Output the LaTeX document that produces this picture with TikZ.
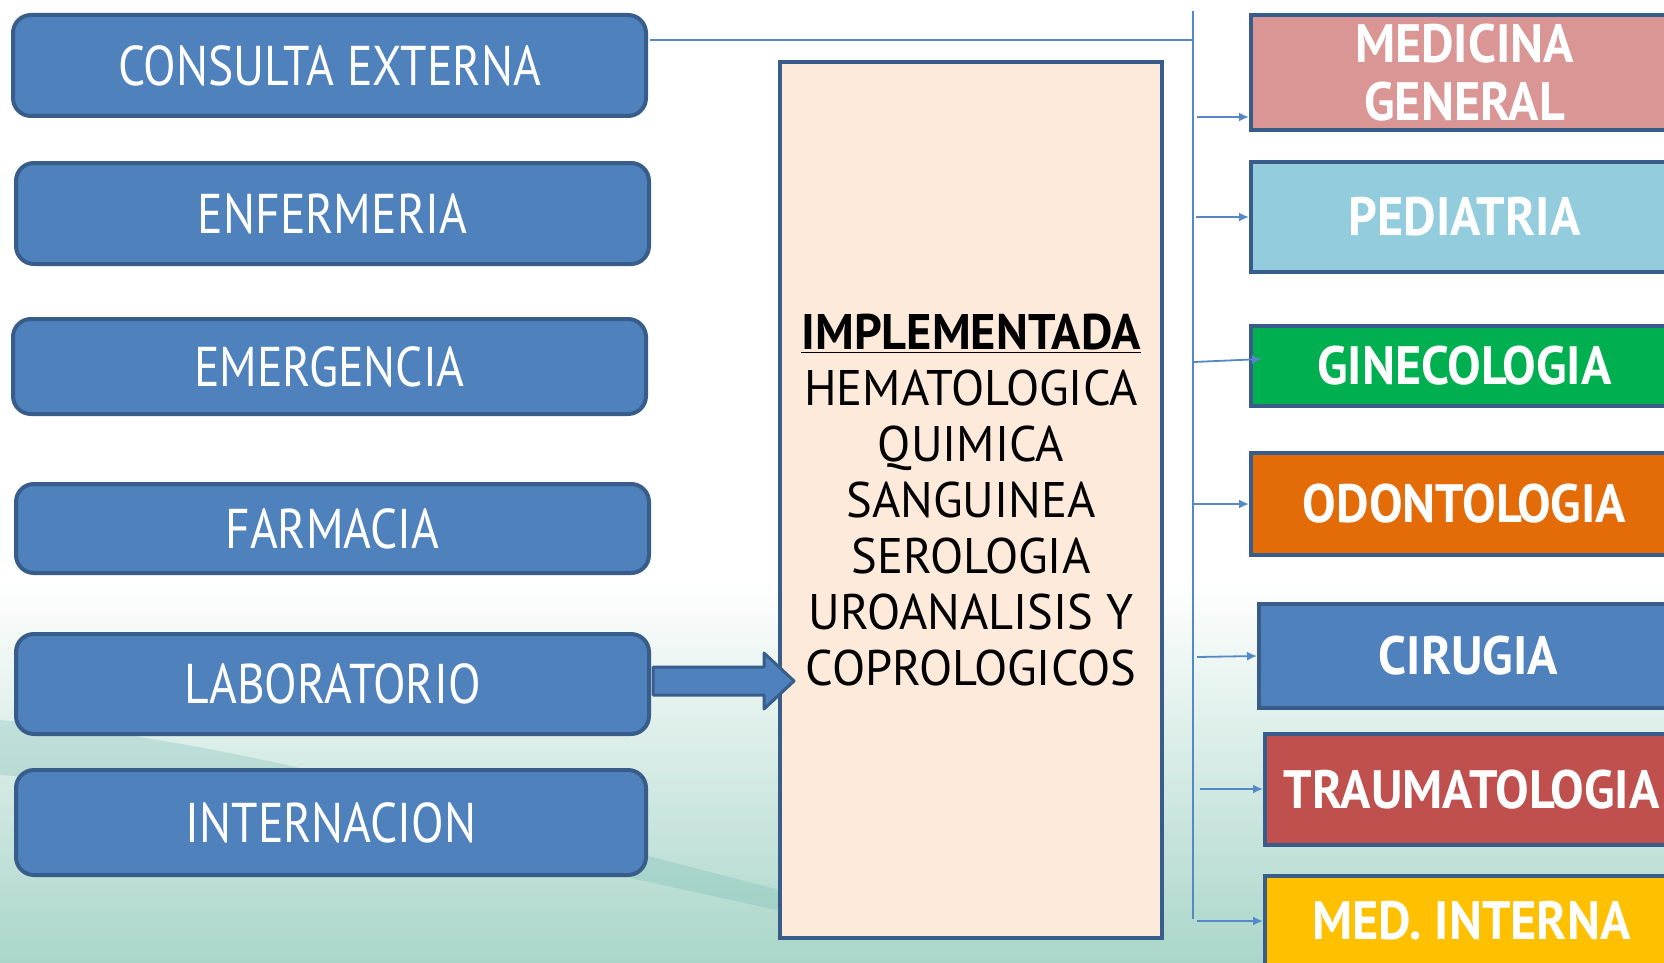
\documentclass[tikz,border=0pt]{standalone}
\usepackage{fontspec}
\setmainfont{PT Sans}
\newfontfamily\leftfont[FakeStretch=0.85]{PT Sans}
\newfontfamily\rightfont[FakeStretch=0.93]{PT Sans}
\newfontfamily\centerfont[FakeStretch=0.97]{PT Sans}
\usetikzlibrary{positioning,calc,arrows.meta}
\definecolor{azul}{RGB}{79,129,189}
\definecolor{borde}{RGB}{56,93,138}
\definecolor{crema}{RGB}{253,234,218}
\definecolor{rosa}{RGB}{217,150,148}
\definecolor{celeste}{RGB}{147,205,221}
\definecolor{verde}{RGB}{0,176,80}
\definecolor{naranja}{RGB}{227,108,9}
\definecolor{rojo}{RGB}{192,80,77}
\definecolor{amarillo}{RGB}{255,192,0}
\definecolor{linea}{RGB}{84,136,198}
\definecolor{fondo}{RGB}{170,214,201}

\begin{document}
\begin{tikzpicture}[x=0.5pt, y=-0.5pt,
  servicio/.style={rectangle, rounded corners=9pt, draw=borde, line width=2pt, fill=azul, text=white, inner sep=0pt, font=\leftfont\fontsize{28}{32}\selectfont},
  area/.style={rectangle, draw=borde, line width=2pt, text=white, inner sep=0pt, align=center, font=\rightfont\bfseries\fontsize{27}{29}\selectfont},
  conector/.style={-{Latex[length=5pt,width=4.5pt]}, draw=linea, line width=0.9pt}]
\useasboundingbox (0,0) rectangle (1664,963);
\clip (0,0) rectangle (1664,963);
\fill[white] (0,0) rectangle (1664,963);
\fill[top color=white, bottom color=fondo] (0,580) rectangle (1664,963);
\fill[fondo!60!teal, opacity=0.25] (0,720) .. controls (250,740) and (500,820) .. (800,895) -- (800,915) .. controls (500,850) and (250,790) .. (0,775) -- cycle;

\node[servicio, minimum width=316.5pt, minimum height=50.5pt] (consulta) at (329.5,65.5) {CONSULTA EXTERNA};
\node[servicio, minimum width=316.5pt, minimum height=50.5pt] (enfermeria) at (332.5,213.5) {ENFERMERIA};
\node[servicio, minimum width=316.5pt, minimum height=47.5pt] (emergencia) at (329.5,366.5) {EMERGENCIA};
\node[servicio, minimum width=316.5pt, minimum height=44.5pt] (farmacia) at (332.5,528.5) {FARMACIA};
\node[servicio, minimum width=316.5pt, minimum height=50pt] (laboratorio) at (332.5,684) {LABORATORIO};
\node[servicio, minimum width=315pt, minimum height=52.5pt] (internacion) at (331,822.5) {INTERNACION};

\node[rectangle, draw=borde, line width=2pt, fill=crema, minimum width=191pt, minimum height=438pt, align=center, font=\centerfont\fontsize{25}{28}\selectfont] (pruebas) at (971,500)
  {\underline{\textbf{IMPLEMENTADA}}\\HEMATOLOGICA\\QUIMICA\\SANGUINEA\\SEROLOGIA\\UROANALISIS Y\\COPROLOGICOS};

\draw[fill=azul, draw=borde, line width=1.5pt, line join=round] (laboratorio.east) ++(2,-17) -- ++(111,0) -- ++(0,-14) -- ++(30,28) -- ++(-30,28) -- ++(0,-14) -- ++(-111,0) -- cycle;

\node[area, fill=rosa, minimum width=213.5pt, minimum height=57.5pt] (medicina) at (1464.5,72.5) {MEDICINA\\GENERAL};
\node[area, fill=celeste, minimum width=213.5pt, minimum height=55pt] (pediatria) at (1464.5,217) {PEDIATRIA};
\node[area, fill=verde, minimum width=213.5pt, minimum height=40pt] (ginecologia) at (1464.5,366) {GINECOLOGIA};
\node[area, fill=naranja, minimum width=213.5pt, minimum height=51pt] (odontologia) at (1464.5,504) {ODONTOLOGIA};
\node[area, fill=azul, minimum width=209.5pt, minimum height=52pt] (cirugia) at (1468.5,656) {CIRUGIA};
\node[area, fill=rojo, minimum width=206.5pt, minimum height=55.5pt] (traumatologia) at (1471.5,789.5) {TRAUMATOLOGIA};
\node[area, fill=amarillo, minimum width=206.5pt, minimum height=45pt] (medinterna) at (1471.5,921) {MED. INTERNA};

\coordinate (bustop) at (1193,11);
\coordinate (busbot) at (1193,919);
\coordinate (tap) at (1193,40);
\coordinate (a1) at (1197,117);
\coordinate (a2) at (1196,217);
\coordinate (a3) at (1194,362);
\coordinate (a4) at (1194,504);
\coordinate (a5) at (1197,657);
\coordinate (a6) at (1200,789);
\coordinate (a7) at (1197,921);

\draw[linea, line width=0.9pt] (bustop) -- (busbot);
\draw[linea, line width=0.9pt] ([xshift=1pt]consulta.east |- tap) -- (tap);
\draw[conector] (a1) -- (a1 -| medicina.west);
\draw[conector] (a2) -- (a2 -| pediatria.west);
\draw[conector] (a3) -- ([xshift=6.5pt,yshift=3.5pt]ginecologia.west);
\draw[conector] (a4) -- (a4 -| odontologia.west);
\draw[conector] (a5) -- (cirugia.west);
\draw[conector] (a6) -- (a6 -| traumatologia.west);
\draw[conector] (a7) -- (a7 -| medinterna.west);
\end{tikzpicture}
\end{document}
